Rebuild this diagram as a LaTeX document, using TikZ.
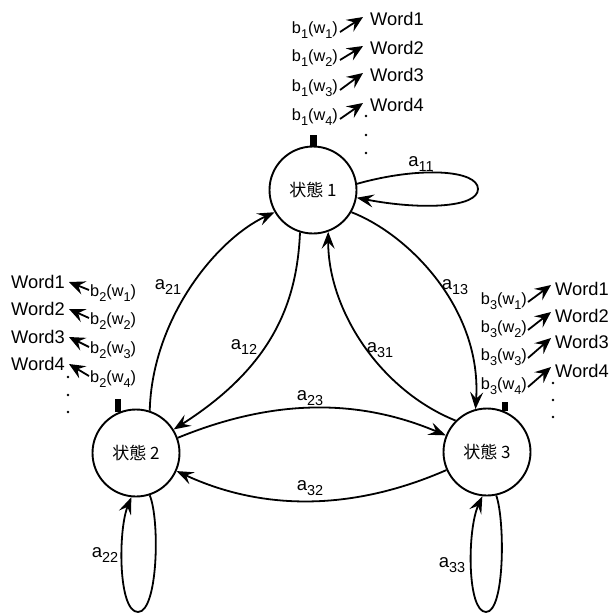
\documentclass[tikz,border=0pt]{standalone}
\usepackage{fontspec}
\setmainfont{Liberation Sans}
\newfontfamily\cjk{Noto Sans CJK JP}
\usetikzlibrary{arrows.meta}

% lowered, reduced index
\newcommand\lo[1]{\raisebox{-0.5ex}{\scalebox{0.78}{#1}}}

\tikzset{
  state/.style={circle, draw, line width=1.9pt, minimum size=87pt, inner sep=0pt,
                font=\cjk\fontsize{17}{17}\selectfont},
  trans/.style={line width=1.8pt, -{Stealth[length=17pt,width=13pt,inset=6.5pt]}},
  emit/.style={line width=1.8pt, -{Stealth[length=16pt,width=14pt,inset=6pt]}},
  word/.style={inner sep=0pt, font=\fontsize{18.3}{18.3}\selectfont},
  blab/.style={inner sep=0pt, font=\fontsize{16.3}{16.3}\selectfont},
  alab/.style={inner sep=0pt, font=\fontsize{18.5}{18.5}\selectfont},
  vdot/.style={circle, fill, inner sep=0pt, minimum size=2.6pt},
}

\begin{document}
\begin{tikzpicture}[x=1pt,y=-1pt]
\useasboundingbox (0,0) rectangle (610,614);
\fill[white] (0,0) rectangle (610,614);

% states
\node[state] (s1) at (313,190) {状態 1};
\node[state] (s2) at (136,453) {状態 2};
\node[state] (s3) at (487,452) {状態 3};

% output stubs
\fill ([xshift=-3.5pt]s1.north) rectangle ++(7,-11);
\fill ([xshift=-3pt]s2.114) rectangle ++(6,-13);
\fill ([xshift=-3pt]s3.66) rectangle ++(6,-9);

% transitions between states
\draw[trans] (s2.72) .. controls (152,320) and (215,240) .. (s1.210);
\draw[trans] (s1.253) .. controls (297,300) and (275,365) .. (s2.32);
\draw[trans] (s3.135) .. controls (380,390) and (328,310) .. (s1.290);
\draw[trans] (s1.330) .. controls (410,235) and (482,310) .. (s3.105);
\draw[trans] (s2.20) .. controls (270,400) and (355,397) .. (s3.158);
\draw[trans] (s3.204) .. controls (355,510) and (265,512) .. (s2.336);

% self loops
\coordinate (l1) at (478,189);
\coordinate (l2) at (138,612);
\coordinate (l3) at (486,612);
\draw[trans] (s1.8) .. controls (420,166) and (478,170) .. (l1)
             .. controls (478,208) and (420,210) .. (s1.-10);
\draw[trans] (s2.-72) .. controls (160,520) and (158,612) .. (l2)
             .. controls (118,612) and (118,530) .. (s2.-96);
\draw[trans] (s3.-78) .. controls (505,520) and (505,612) .. (l3)
             .. controls (467,612) and (467,530) .. (s3.-96);

% transition labels
\node[alab] (a21) at (168,287) {a\lo{21}};
\node[alab] (a12) at (244,347) {a\lo{12}};
\node[alab] (a31) at (380,350) {a\lo{31}};
\node[alab] (a13) at (455,287) {a\lo{13}};
\node[alab] (a23) at (310,398) {a\lo{23}};
\node[alab] (a32) at (310,488) {a\lo{32}};
\node[alab] (a11) at (421,164) {a\lo{11}};
\node[alab] (a22) at (105,555) {a\lo{22}};
\node[alab] (a33) at (452,565) {a\lo{33}};

% emissions of state 1
\foreach \i/\wy/\by in {1/19/30, 2/48/58, 3/75/88, 4/105/117} {
  \node[word, anchor=west] (w1\i) at (370,\wy) {Word\i};
  \node[blab, anchor=east] (b1\i) at (338,\by) {b\lo{1}(w\lo{\i})};
  \draw[emit] ([shift={(2,2)}]b1\i.east) -- ([shift={(-7,-2)}]w1\i.west);
}
\node[vdot] (d11) at (366,116) {};
\node[vdot] (d12) at (366,135) {};
\node[vdot] (d13) at (366,153) {};

% emissions of state 2
\foreach \i/\wy/\by in {1/282/293, 2/309/321, 3/337/350, 4/364/379} {
  \node[word, anchor=east] (w2\i) at (65,\wy) {Word\i};
  \node[blab, anchor=west] (b2\i) at (90,\by) {b\lo{2}(w\lo{\i})};
  \draw[emit] ([shift={(-1,-3)}]b2\i.west) -- ([shift={(4,0)}]w2\i.east);
}
\node[vdot] (d21) at (68,377) {};
\node[vdot] (d22) at (68,395) {};
\node[vdot] (d23) at (68,412) {};

% emissions of state 3
\foreach \i/\wy/\by in {1/289/301, 2/316/329, 3/342/357, 4/371/386} {
  \node[word, anchor=west] (w3\i) at (555,\wy) {Word\i};
  \node[blab, anchor=east] (b3\i) at (527,\by) {b\lo{3}(w\lo{\i})};
  \draw[emit] ([shift={(1,1)}]b3\i.east) -- ([shift={(-4,-4)}]w3\i.west);
}
\node[vdot] (d31) at (553,383) {};
\node[vdot] (d32) at (553,400) {};
\node[vdot] (d33) at (553,417) {};
\end{tikzpicture}
\end{document}
